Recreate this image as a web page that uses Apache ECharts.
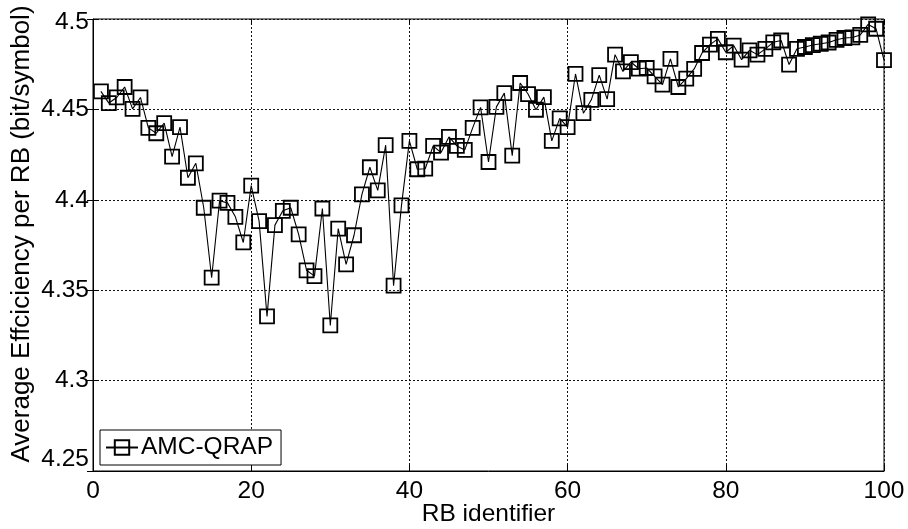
<!DOCTYPE html>
<html>
<head>
<meta charset="utf-8">
<script src="https://cdn.jsdelivr.net/npm/echarts@6/dist/echarts.min.js"></script>
<style>html,body{margin:0;padding:0;background:#fff}#c{width:908px;height:529px}</style>
</head>
<body>
<div id="c"></div>
<script>
var rbIds = [];
for (var i = 1; i <= 100; i++) rbIds.push(i);
var amcQrap = [
  4.4600, 4.4535, 4.4566, 4.4624, 4.4503, 4.4566, 4.4398, 4.4368, 4.4424, 4.4239,
  4.4402, 4.4122, 4.4202, 4.3956, 4.3569, 4.3995, 4.3983, 4.3906, 4.3764, 4.4078,
  4.3882, 4.3355, 4.3860, 4.3939, 4.3956, 4.3809, 4.3610, 4.3578, 4.3952, 4.3305,
  4.3841, 4.3643, 4.3804, 4.4030, 4.4180, 4.4052, 4.4302, 4.3525, 4.3969, 4.4326,
  4.4169, 4.4172, 4.4298, 4.4261, 4.4348, 4.4298, 4.4276, 4.4398, 4.4511, 4.4209,
  4.4514, 4.4590, 4.4244, 4.4646, 4.4585, 4.4498, 4.4568, 4.4326, 4.4450, 4.4402,
  4.4696, 4.4479, 4.4553, 4.4690, 4.4557, 4.4803, 4.4710, 4.4762, 4.4725, 4.4729,
  4.4683, 4.4637, 4.4779, 4.4624, 4.4670, 4.4724, 4.4812, 4.4858, 4.4890, 4.4816,
  4.4853, 4.4775, 4.4827, 4.4803, 4.4835, 4.4871, 4.4881, 4.4748, 4.4835, 4.4845,
  4.4856, 4.4863, 4.4870, 4.4885, 4.4895, 4.4898, 4.4912, 4.4970, 4.4946, 4.4773
];
var xTicks = [0, 20, 40, 60, 80, 100];
var yTicks = [4.25, 4.3, 4.35, 4.4, 4.45, 4.5];
var seriesName = 'AMC-QRAP';
var xName = 'RB identifier';
var yName = 'Average Effciciency per RB (bit/symbol)';

var FONT = 'Liberation Sans, Arial, sans-serif';
var FS = 24.5;
var pts = rbIds.map(function (x, k) { return [x, amcQrap[k]]; });
var chart = echarts.init(document.getElementById('c'), null, {renderer: 'canvas'});
var gridLine = {show: true, lineStyle: {color: '#111', width: 1, type: [2, 2]}};
var tickIn = {show: true, inside: true, length: 6, lineStyle: {color: '#000', width: 1}};
chart.setOption({
  animation: false,
  backgroundColor: '#fff',
  grid: {left: 93, right: 24, top: 19, bottom: 58, show: true, borderColor: '#000', borderWidth: 1,
    backgroundColor: 'transparent', containLabel: false, outerBoundsMode: 'none'},
  legend: {
    left: 100, top: 430, padding: [5, 8, 5, 5],
    backgroundColor: '#fff', borderColor: '#000', borderWidth: 1, borderRadius: 0,
    itemWidth: 32, itemHeight: 18, itemGap: 5,
    textStyle: {fontFamily: FONT, fontSize: FS, color: '#000', padding: [0, 0, 0, -2]},
    data: [seriesName]
  },
  xAxis: [{
    type: 'value', min: xTicks[0], max: xTicks[xTicks.length - 1], interval: 20,
    name: xName, nameLocation: 'middle', nameGap: 31, nameMoveOverlap: false,
    nameTextStyle: {fontFamily: FONT, fontSize: FS, color: '#000'},
    axisLine: {show: true, lineStyle: {color: '#000', width: 1}},
    axisTick: tickIn,
    axisLabel: {fontFamily: FONT, fontSize: FS, color: '#000', margin: 8},
    splitLine: gridLine
  }, {
    type: 'value', position: 'top', min: 0, max: 100, interval: 20,
    axisLine: {show: false}, axisTick: tickIn, axisLabel: {show: false}, splitLine: {show: false}
  }],
  yAxis: [{
    type: 'value', min: yTicks[0], max: yTicks[yTicks.length - 1], interval: 0.05,
    name: yName, nameLocation: 'middle', nameGap: 58, nameMoveOverlap: false,
    nameTextStyle: {fontFamily: FONT, fontSize: 26, color: '#000', padding: [0, 0, 0, 22]},
    axisLine: {show: true, lineStyle: {color: '#000', width: 1}},
    axisTick: tickIn,
    axisLabel: {fontFamily: FONT, fontSize: FS, color: '#000', margin: 4,
      formatter: function (v) {
        var s = String(+v.toFixed(2));
        if (Math.abs(v - yTicks[0]) < 1e-9) return '{lo|' + s + '}';
        if (Math.abs(v - yTicks[yTicks.length - 1]) < 1e-9) return '{hi|' + s + '}';
        return s;
      },
      rich: {
        lo: {fontFamily: FONT, fontSize: FS, color: '#000', padding: [0, 0, 24, 0]},
        hi: {fontFamily: FONT, fontSize: FS, color: '#000', padding: [6, 0, 0, 0]}
      }},
    splitLine: gridLine
  }, {
    type: 'value', position: 'right', min: 4.25, max: 4.5, interval: 0.05,
    axisLine: {show: false}, axisTick: tickIn, axisLabel: {show: false}, splitLine: {show: false}
  }],
  series: [{
    name: seriesName, type: 'line', data: pts, xAxisIndex: 0, yAxisIndex: 0,
    symbol: 'rect', symbolSize: 14, showAllSymbol: true,
    lineStyle: {color: '#000', width: 1.1},
    itemStyle: {color: 'rgba(0,0,0,0)', borderColor: '#000', borderWidth: 1.8},
    emphasis: {disabled: true}
  }]
});
</script>
</body>
</html>
